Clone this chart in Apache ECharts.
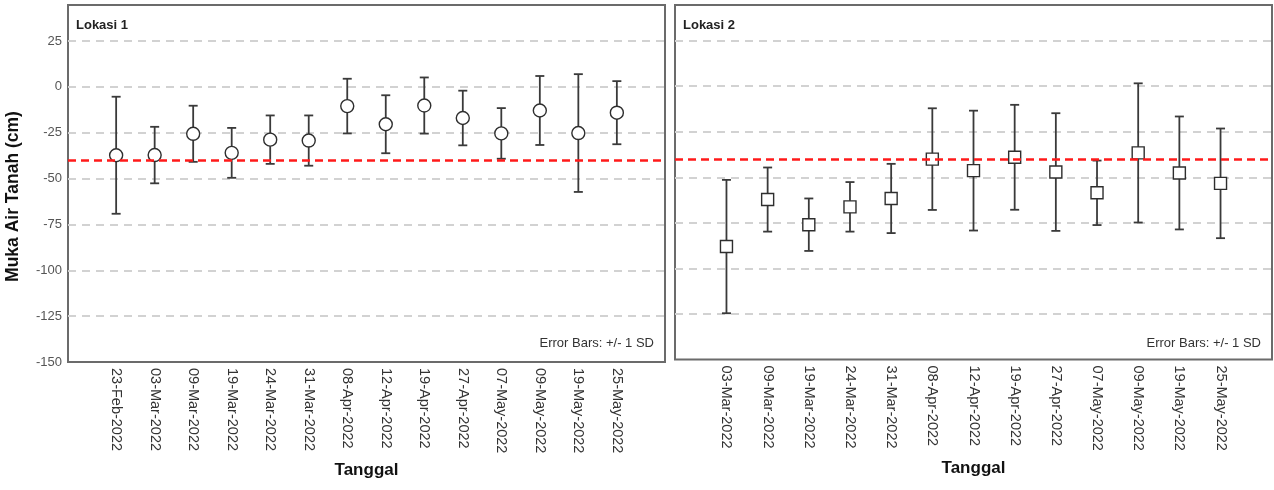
<!DOCTYPE html>
<html>
<head>
<meta charset="utf-8">
<title>Muka Air Tanah</title>
<script src="https://cdn.jsdelivr.net/npm/echarts@6/dist/echarts.min.js"></script>
<style>
  html, body { margin: 0; padding: 0; background: #fff; }
  #chart { width: 1274px; height: 490px; }
</style>
</head>
<body>
<div id="chart"></div>
<script>
// data lokasi 1
var tanggal1 = ['23-Feb-2022', '03-Mar-2022', '09-Mar-2022', '19-Mar-2022', '24-Mar-2022', '31-Mar-2022', '08-Apr-2022',
  '12-Apr-2022', '19-Apr-2022', '27-Apr-2022', '07-May-2022', '09-May-2022', '19-May-2022', '25-May-2022'];
var rata1 = [-37.3, -37.2, -25.6, -36.0, -28.8, -29.3, -10.5, -20.4, -10.2, -17.0, -25.4, -12.9, -25.2, -14.1];
var sd1 = [31.9, 15.4, 15.3, 13.6, 13.2, 13.7, 14.9, 15.8, 15.3, 14.9, 13.8, 18.8, 32.1, 17.2];

// data lokasi 2
var tanggal2 = ['03-Mar-2022', '09-Mar-2022', '19-Mar-2022', '24-Mar-2022', '31-Mar-2022', '08-Apr-2022', '12-Apr-2022',
  '19-Apr-2022', '27-Apr-2022', '07-May-2022', '09-May-2022', '19-May-2022', '25-May-2022'];
var rata2 = [-88.0, -62.2, -76.0, -66.2, -61.6, -40.0, -46.3, -39.0, -47.1, -58.5, -36.6, -47.6, -53.3];
var sd2 = [36.6, 17.6, 14.4, 13.6, 19.0, 27.9, 32.9, 28.8, 32.3, 17.7, 38.2, 31.0, 30.1];

// garis batas (merah putus-putus)
var batas = [-40];
var yMin = -150, yMax = 44.6, yStep = 25;

var font = 'Liberation Sans, Arial, sans-serif';
var pad = 1.25; // jarak kategori pertama/terakhir ke tepi bingkai (dalam satuan kategori)

// posisi bingkai tiap panel
var panels = [
  { left: 68, top: 5, width: 597, height: 357, n: tanggal1.length, cats: tanggal1, mean: rata1, sd: sd1, symbol: 'circle', size: 13, title: 'Lokasi 1', showY: true },
  { left: 675, top: 5, width: 597, height: 354.5, n: tanggal2.length, cats: tanggal2, mean: rata2, sd: sd2, symbol: 'rect', size: 12, title: 'Lokasi 2', showY: false }
];

var grid = [], xAxis = [], yAxis = [], series = [], title = [];

panels.forEach(function (p, k) {
  // grid bingkai
  grid.push({ left: p.left, top: p.top, width: p.width, height: p.height, show: true,
    borderColor: '#6b6b6b', borderWidth: 2, backgroundColor: '#fff' });
  xAxis.push({ type: 'value', gridIndex: k, min: -pad, max: p.n - 1 + pad, show: false });
  yAxis.push({
    type: 'value', gridIndex: k, min: yMin, max: yMax, interval: yStep,
    axisLine: { show: false }, axisTick: { show: false },
    axisLabel: {
      show: p.showY, color: '#555', fontSize: 13, margin: 6, fontFamily: font,
      formatter: function (v) { return v % yStep === 0 ? v : ''; }
    },
    splitLine: { show: true, showMinLine: false, showMaxLine: false,
      lineStyle: { color: '#d2d2d2', width: 2, type: [8, 6] } },
    name: p.showY ? 'Muka Air Tanah (cm)' : '',
    nameLocation: 'middle', nameGap: 46,
    nameTextStyle: { fontSize: 17.5, fontWeight: 'bold', color: '#111', fontFamily: font, padding: [0, 26, 0, 0] }
  });
});

// grid untuk label tanggal (lebar sama dengan rentang kategori)
panels.forEach(function (p, k) {
  var band = p.width / (p.n - 1 + 2 * pad);
  grid.push({ left: p.left + (pad - 0.5) * band, top: p.top, width: p.n * band, height: p.height });
  xAxis.push({
    type: 'category', gridIndex: 2 + k, data: p.cats, boundaryGap: true,
    axisLine: { show: false }, axisTick: { show: false },
    axisLabel: { rotate: -90, color: '#333', fontSize: 14.5, margin: 6, fontFamily: font, interval: 0 },
    name: 'Tanggal', nameLocation: 'middle', nameGap: 100,
    nameTextStyle: { fontSize: 17, fontWeight: 'bold', color: '#111', fontFamily: font }
  });
  yAxis.push({ type: 'value', gridIndex: 2 + k, min: yMin, max: yMax, show: false });
});

panels.forEach(function (p, k) {
  var bars = p.mean.map(function (m, i) { return [i, m - p.sd[i], m + p.sd[i]]; });
  // error bar +/- 1 SD
  series.push({
    type: 'custom',
    xAxisIndex: k, yAxisIndex: k,
    z: 2,
    data: bars,
    encode: { x: 0, y: [1, 2] },
    renderItem: function (params, api) {
      var x = api.value(0);
      var lo = api.coord([x, api.value(1)]);
      var hi = api.coord([x, api.value(2)]);
      var w = 4.5;
      var st = { stroke: '#3a3a3a', lineWidth: 1.8 };
      return {
        type: 'group',
        children: [
          { type: 'line', shape: { x1: lo[0], y1: lo[1], x2: hi[0], y2: hi[1] }, style: st },
          { type: 'line', shape: { x1: lo[0] - w, y1: lo[1], x2: lo[0] + w, y2: lo[1] }, style: st },
          { type: 'line', shape: { x1: hi[0] - w, y1: hi[1], x2: hi[0] + w, y2: hi[1] }, style: st }
        ]
      };
    },
    markLine: {
      silent: true, symbol: 'none', label: { show: false },
      lineStyle: { color: '#ff1a1a', width: 2.5, type: [8, 5] },
      data: batas.map(function (b) { return { yAxis: b }; })
    }
  });
  // titik rata-rata
  series.push({
    type: 'scatter',
    xAxisIndex: k, yAxisIndex: k,
    z: 3,
    symbol: p.symbol,
    symbolSize: p.size,
    itemStyle: { color: '#fff', borderColor: '#2e2e2e', borderWidth: 1.4, opacity: 1 },
    data: p.mean.map(function (m, i) { return [i, m]; })
  });
  title.push({ text: p.title, left: p.left + 8, top: 19, padding: 0,
    textStyle: { fontSize: 13, fontWeight: 'bold', color: '#222', fontFamily: font } });
  title.push({ text: 'Error Bars: +/- 1 SD', right: 1274 - (p.left + p.width) + 11, top: 337, padding: 0,
    textStyle: { fontSize: 13, fontWeight: 'normal', color: '#333', fontFamily: font } });
});

var myChart = echarts.init(document.getElementById('chart'), null, { renderer: 'canvas' });
myChart.setOption({
  animation: false,
  backgroundColor: '#fff',
  textStyle: { fontFamily: font },
  title: title,
  grid: grid,
  xAxis: xAxis,
  yAxis: yAxis,
  series: series
});
</script>
</body>
</html>
